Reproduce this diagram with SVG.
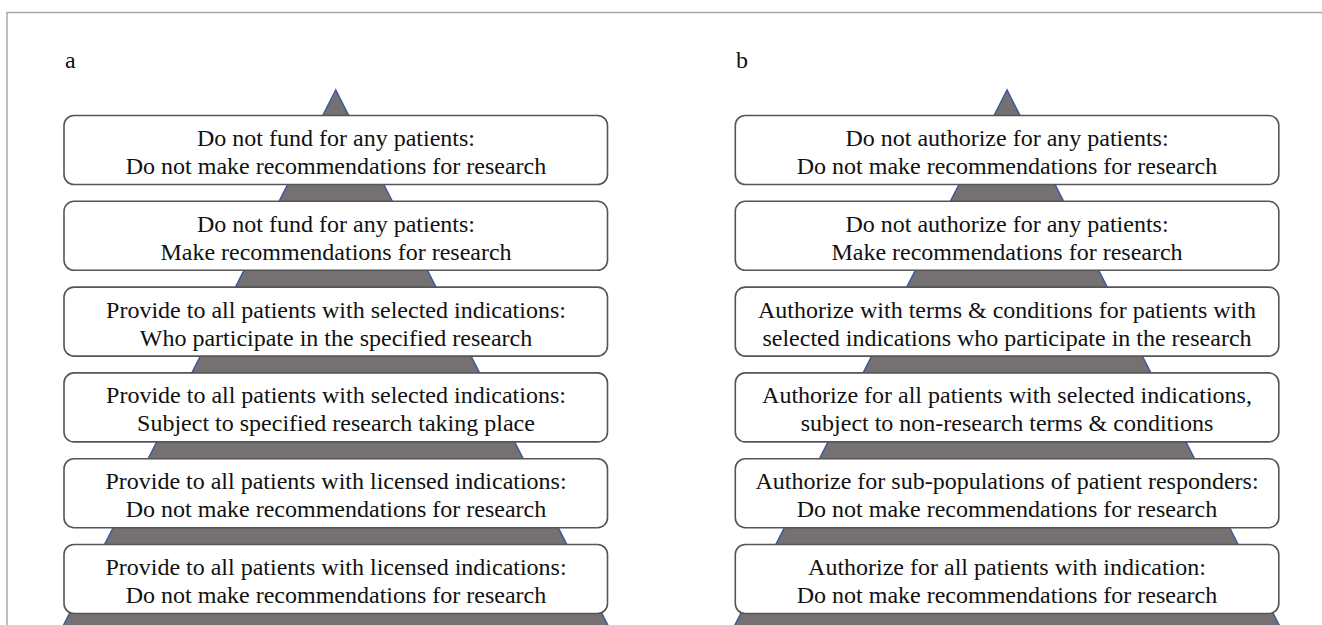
<svg xmlns="http://www.w3.org/2000/svg" width="1322" height="625" viewBox="0 0 1322 625">
<style>
.box{fill:#ffffff;stroke:#555555;stroke-width:1.6}
.tri{fill:#757071;stroke:#3b5b9b;stroke-width:1.5}
.t{font-family:'Liberation Serif','Times New Roman',serif;font-size:24px;fill:#111111;text-anchor:middle}
.lbl{font-family:'Liberation Serif','Times New Roman',serif;font-size:24px;fill:#111111}
</style>
<rect width="1322" height="625" fill="#ffffff"/>
<path d="M7 625 V12.5 H1322" fill="none" stroke="#a8a8a8" stroke-width="1.5"/>
<text class="lbl" x="65" y="68">a</text>
<text class="lbl" x="736" y="68">b</text>
<g id="triangles">
<polygon id="pyramid-a" class="tri" points="335.7,90 56,640 615.4,640"/>
<polygon id="pyramid-b" class="tri" points="1007,90 727.3,640 1286.7,640"/>
</g>
<g id="panel-a">
<g id="a1"><rect class="box" x="64" y="115.5" width="543.5" height="69" rx="10"/><text class="t" x="336" y="146">Do not fund for any patients:</text><text class="t" x="336" y="174">Do not make recommendations for research</text></g>
<g id="a2"><rect class="box" x="64" y="201.3" width="543.5" height="69" rx="10"/><text class="t" x="336" y="231.8">Do not fund for any patients:</text><text class="t" x="336" y="259.8">Make recommendations for research</text></g>
<g id="a3"><rect class="box" x="64" y="287.1" width="543.5" height="69" rx="10"/><text class="t" x="336" y="317.6">Provide to all patients with selected indications:</text><text class="t" x="336" y="345.6">Who participate in the specified research</text></g>
<g id="a4"><rect class="box" x="64" y="372.9" width="543.5" height="69" rx="10"/><text class="t" x="336" y="403.4">Provide to all patients with selected indications:</text><text class="t" x="336" y="431.4">Subject to specified research taking place</text></g>
<g id="a5"><rect class="box" x="64" y="458.7" width="543.5" height="69" rx="10"/><text class="t" x="336" y="489.2">Provide to all patients with licensed indications:</text><text class="t" x="336" y="517.2">Do not make recommendations for research</text></g>
<g id="a6"><rect class="box" x="64" y="544.5" width="543.5" height="69" rx="10"/><text class="t" x="336" y="575">Provide to all patients with licensed indications:</text><text class="t" x="336" y="603">Do not make recommendations for research</text></g>
</g>
<g id="panel-b">
<g id="b1"><rect class="box" x="735.3" y="115.5" width="543.5" height="69" rx="10"/><text class="t" x="1007" y="146">Do not authorize for any patients:</text><text class="t" x="1007" y="174">Do not make recommendations for research</text></g>
<g id="b2"><rect class="box" x="735.3" y="201.3" width="543.5" height="69" rx="10"/><text class="t" x="1007" y="231.8">Do not authorize for any patients:</text><text class="t" x="1007" y="259.8">Make recommendations for research</text></g>
<g id="b3"><rect class="box" x="735.3" y="287.1" width="543.5" height="69" rx="10"/><text class="t" x="1007" y="317.6">Authorize with terms &amp; conditions for patients with</text><text class="t" x="1007" y="345.6">selected indications who participate in the research</text></g>
<g id="b4"><rect class="box" x="735.3" y="372.9" width="543.5" height="69" rx="10"/><text class="t" x="1007" y="403.4">Authorize for all patients with selected indications,</text><text class="t" x="1007" y="431.4">subject to non-research terms &amp; conditions</text></g>
<g id="b5"><rect class="box" x="735.3" y="458.7" width="543.5" height="69" rx="10"/><text class="t" x="1007" y="489.2">Authorize for sub-populations of patient responders:</text><text class="t" x="1007" y="517.2">Do not make recommendations for research</text></g>
<g id="b6"><rect class="box" x="735.3" y="544.5" width="543.5" height="69" rx="10"/><text class="t" x="1007" y="575">Authorize for all patients with indication:</text><text class="t" x="1007" y="603">Do not make recommendations for research</text></g>
</g>
</svg>
